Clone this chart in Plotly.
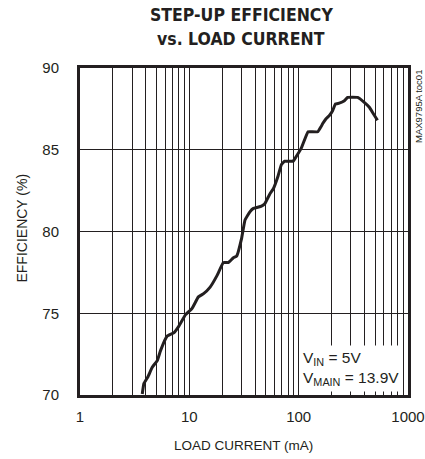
import plotly.graph_objects as go

# Data
current_ma = [3.71, 3.84, 4.17, 4.58, 5.09, 5.44, 6.26, 7.2, 8.0, 9.2, 10.6, 12.1, 13.5,
              15.5, 17.9, 20.5, 22.7, 25.3, 27.1, 30.1, 32.3, 35.8, 38.3, 45.7, 49.0,
              54.5, 58.5, 64.8, 69.6, 74.6, 88.9, 95.3, 105.7, 121.8, 130.5, 149.6,
              160, 166, 178, 191, 205, 217, 235, 262, 280, 346, 398, 443, 482, 526]
efficiency_pct = [70.06, 70.7, 71.1, 71.7, 72.1, 72.7, 73.6, 73.8, 74.2, 74.9, 75.3, 76.0,
                  76.2, 76.6, 77.3, 78.1, 78.1, 78.4, 78.5, 79.6, 80.7, 81.2, 81.4, 81.55,
                  81.7, 82.3, 82.6, 83.4, 84.1, 84.3, 84.3, 84.6, 85.1, 86.1, 86.1, 86.1,
                  86.4, 86.6, 86.9, 87.1, 87.4, 87.8, 87.85, 88.0, 88.2, 88.2, 87.9, 87.6,
                  87.2, 86.8]

x_major_vals = [1, 10, 100, 1000]
x_major_labels = ["1", "10", "100", "1000"]
x_minor_vals = [m * 10 ** d for d in range(3) for m in range(2, 10)]
y_tick_vals = [70, 75, 80, 85, 90]

ink = "#231f20"
body_font = "Liberation Sans, Arial, sans-serif"
title_font = "DejaVu Sans Condensed, DejaVu Sans, sans-serif"

fig = go.Figure()
fig.add_trace(go.Scatter(
    x=current_ma, y=efficiency_pct, mode="lines",
    line=dict(color=ink, width=3, shape="spline", smoothing=0.3),
    showlegend=False, hoverinfo="skip",
))

fig.update_layout(
    width=425, height=459,
    margin=dict(l=80, r=17, t=68, b=64),
    paper_bgcolor="white", plot_bgcolor="white",
    font=dict(family=body_font, color=ink, size=15),
    xaxis=dict(
        type="log", range=[0, 3],
        tickvals=x_major_vals, ticktext=x_major_labels,
        minor=dict(tickmode="array", tickvals=x_minor_vals, showgrid=True,
                   gridcolor=ink, gridwidth=1, ticks=""),
        showgrid=True, gridcolor=ink, gridwidth=1,
        showline=True, linecolor=ink, linewidth=3, mirror=True,
        ticks="", ticklabelstandoff=6,
        tickfont=dict(size=15),
        automargin=False, zeroline=False,
    ),
    yaxis=dict(
        range=[70, 90], tickvals=y_tick_vals,
        showgrid=True, gridcolor=ink, gridwidth=1,
        showline=True, linecolor=ink, linewidth=3, mirror=True,
        ticks="", ticklabelstandoff=15,
        tickfont=dict(size=15),
        automargin=False, zeroline=False,
    ),
    annotations=[
        dict(text="<b>STEP-UP EFFICIENCY</b>", xref="paper", yref="paper",
             x=0.492, y=1.162, xanchor="center", yanchor="middle", showarrow=False,
             font=dict(family=title_font, size=17.5, color=ink)),
        dict(text="<b>vs. LOAD CURRENT</b>", xref="paper", yref="paper",
             x=0.492, y=1.090, xanchor="center", yanchor="middle", showarrow=False,
             font=dict(family=title_font, size=17.5, color=ink)),
        dict(text="LOAD CURRENT (mA)", xref="paper", yref="paper",
             x=0.497, y=-0.153, xanchor="center", yanchor="middle", showarrow=False,
             font=dict(size=13.5)),
        dict(text="EFFICIENCY (%)", textangle=-90, xref="paper", yref="paper",
             x=-0.177, y=0.512, xanchor="center", yanchor="middle", showarrow=False,
             font=dict(size=14)),
        dict(
            text="V<sub>IN</sub> = 5V<br>V<sub>MAIN</sub> = 13.9V",
            xref="paper", yref="paper", x=0.668, y=0.009,
            xanchor="left", yanchor="bottom", align="left",
            showarrow=False, bgcolor="white", borderpad=3,
            font=dict(size=15.5, color=ink),
        ),
        dict(
            text="MAX9795A toc01", textangle=-90,
            xref="paper", yref="paper", x=1.0, y=1.0,
            xanchor="left", yanchor="top", xshift=3,
            showarrow=False,
            font=dict(size=9.5, color=ink),
        ),
    ],
)

fig.write_html(
    "out.html",
    config={"displayModeBar": False},
    post_script="document.body.style.margin='0';document.body.style.overflow='hidden';",
)
